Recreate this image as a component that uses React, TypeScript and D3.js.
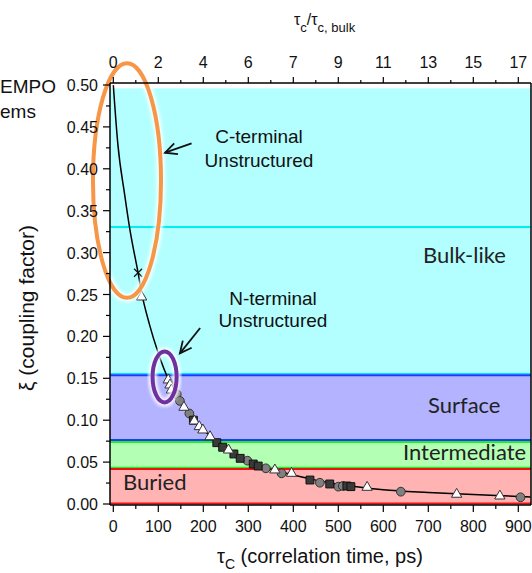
import { scaleLinear, line, curveMonotoneX, symbol, symbolTriangle, symbolCircle, symbolSquare, format } from 'd3'

const width = 532
const height = 573

// axes
const tauTicks = [0, 100, 200, 300, 400, 500, 600, 700, 800, 900]
const tauMinor = [50, 150, 250, 350, 450, 550, 650, 750, 850]
const topLabels = ['0', '2', '4', '6', '7', '9', '11', '13', '15', '17']
const xiTicks = [0, 0.05, 0.1, 0.15, 0.2, 0.25, 0.3, 0.35, 0.4, 0.45, 0.5]
const xiMinor = [0.025, 0.075, 0.125, 0.175, 0.225, 0.275, 0.325, 0.375, 0.425, 0.475]

// fitted curve
const curveTau = [0, 10, 25, 37, 55, 63, 80, 100, 124, 150, 175, 200, 250, 300, 350, 400, 450, 500, 600, 700, 800, 900, 927]
const curveXi = [0.5, 0.43, 0.37, 0.327, 0.276, 0.252, 0.215, 0.18, 0.147, 0.123, 0.103, 0.0885, 0.0655, 0.0505, 0.0415, 0.0345, 0.0285, 0.0235, 0.017, 0.0137, 0.0112, 0.009, 0.0084]

// measured points
const triTau = [63, 122, 126, 129, 157, 180, 191, 199, 215, 256, 359, 396, 564, 763, 859]
const triXi = [0.247, 0.148, 0.142, 0.136, 0.1154, 0.099, 0.0923, 0.0883, 0.0803, 0.0644, 0.0406, 0.0366, 0.0199, 0.0116, 0.0095]
const circTau = [141, 148, 169, 298, 339, 374, 459, 500, 510, 639, 905]
const circXi = [0.131, 0.123, 0.108, 0.0517, 0.0426, 0.0366, 0.0254, 0.0207, 0.0215, 0.0147, 0.008]
const sqTau = [178, 230, 243, 268, 282, 311, 322, 437, 481, 519, 528]
const sqXi = [0.1, 0.0732, 0.0677, 0.0597, 0.0545, 0.0477, 0.0453, 0.0286, 0.0239, 0.0215, 0.0207]
const crossTau = [55]
const crossXi = [0.276]

// regions
const bandNames = ['Bulk-like', 'Surface', 'Intermediate', 'Buried']
const bandTop = [0.496, 0.1535, 0.0764, 0.0418]
const bandBottom = [0.1535, 0.0764, 0.0418, 0]
const bandFill = ['#b3ffff', '#b3b3ff', '#b3ffb3', '#ffb3b3']

const x = scaleLinear().domain([0, 900]).range([113.3, 518.3])
const y = scaleLinear().domain([0, 0.5]).range([504, 85])

const left = 110
const right = 531
const top = 83
const bottom = 505

const axisFont = '"Liberation Sans", Arial, sans-serif'
const labelFont = 'Lato, "Open Sans", sans-serif'

const fitLine = line<number>()
  .x((d, i) => x(curveTau[i]))
  .y((d) => y(d))
  .curve(curveMonotoneX)

const tri = symbol().type(symbolTriangle).size(46)()
const circ = symbol().type(symbolCircle).size(60)()
const sq = symbol().type(symbolSquare).size(62)()

function Arrow({ x1, y1, x2, y2 }: { x1: number; y1: number; x2: number; y2: number }) {
  const a = Math.atan2(y2 - y1, x2 - x1)
  const len = 13
  const spread = 0.45
  const p1 = [x2 - len * Math.cos(a - spread), y2 - len * Math.sin(a - spread)]
  const p2 = [x2 - len * Math.cos(a + spread), y2 - len * Math.sin(a + spread)]
  return (
    <g stroke="#111" strokeWidth={1.8} fill="none">
      <line x1={x1} y1={y1} x2={x2} y2={y2} />
      <polyline points={`${p1[0]},${p1[1]} ${x2},${y2} ${p2[0]},${p2[1]}`} />
    </g>
  )
}

function Halo({ cx, cy, rx, ry, color }: { cx: number; cy: number; rx: number; ry: number; color: string }) {
  return (
    <g fill="none">
      <ellipse cx={x(cx)} cy={y(cy)} rx={x(rx) - x(0)} ry={y(0) - y(ry)} stroke="#fff" strokeWidth={9} opacity={0.8} filter="url(#blur)" />
      <ellipse cx={x(cx)} cy={y(cy)} rx={x(rx) - x(0)} ry={y(0) - y(ry)} stroke={color} strokeWidth={4} />
    </g>
  )
}

export default function App() {
  const fmt = format('.2f')
  return (
    <svg width={width} height={height} style={{ position: 'absolute', left: 0, top: 0, background: '#fff' }}>
      <defs>
        <filter id="blur" x="-20%" y="-20%" width="140%" height="140%">
          <feGaussianBlur stdDeviation={1.5} />
        </filter>
      </defs>

      {/* text left of the frame, as far as the crop shows it */}
      <g fontFamily={axisFont} fontSize={19} fill="#111">
        <text x={0} y={93}>EMPO</text>
        <text x={0} y={118}>ems</text>
      </g>

      {/* regions */}
      {bandNames.map((n, i) => (
        <rect key={n} x={left} width={right - left} y={y(bandTop[i])} height={y(bandBottom[i]) - y(bandTop[i])} fill={bandFill[i]} />
      ))}
      <line x1={left} x2={right} y1={y(0.3305)} y2={y(0.3305)} stroke="#00f0f0" strokeWidth={2} />
      <line x1={left} x2={right} y1={y(0.1535) - 1.5} y2={y(0.1535) - 1.5} stroke="#00e5ff" strokeWidth={1.5} />
      <line x1={left} x2={right} y1={y(0.1535)} y2={y(0.1535)} stroke="#1a3cff" strokeWidth={2} />
      <line x1={left} x2={right} y1={y(0.0764)} y2={y(0.0764)} stroke="#1a3cff" strokeWidth={2} />
      <line x1={left} x2={right} y1={y(0.0764) + 2} y2={y(0.0764) + 2} stroke="#22ee22" strokeWidth={2} />
      <line x1={left} x2={right} y1={y(0.0418) - 1.5} y2={y(0.0418) - 1.5} stroke="#22ee22" strokeWidth={1.5} />
      <line x1={left} x2={right} y1={y(0.0418)} y2={y(0.0418)} stroke="#ee1111" strokeWidth={2} />
      <line x1={left} x2={right} y1={y(0) - 0.5} y2={y(0) - 0.5} stroke="#ee1111" strokeWidth={2} />

      {/* region labels */}
      <g fontFamily={labelFont} fontSize={22} fill="#222">
        <text x={423} y={263}>{bandNames[0]}</text>
        <text x={428} y={413}>{bandNames[1]}</text>
        <text x={403} y={460}>{bandNames[2]}</text>
        <text x={123} y={490}>{bandNames[3]}</text>
      </g>

      {/* fit */}
      <path d={fitLine(curveXi) ?? ''} fill="none" stroke="#000" strokeWidth={1.5} />

      {/* points */}
      {circTau.map((t, i) => (
        <path key={`c${i}`} d={circ ?? ''} transform={`translate(${x(t)},${y(circXi[i])})`} fill="#808080" stroke="#333" strokeWidth={1} />
      ))}
      {sqTau.map((t, i) => (
        <path key={`s${i}`} d={sq ?? ''} transform={`translate(${x(t)},${y(sqXi[i])})`} fill="#3a3a3a" stroke="#111" strokeWidth={1} />
      ))}
      {triTau.map((t, i) => (
        <path key={`t${i}`} d={tri ?? ''} transform={`translate(${x(t)},${y(triXi[i])})`} fill="#fff" stroke="#333" strokeWidth={1} />
      ))}
      {crossTau.map((t, i) => (
        <g key={`x${i}`} transform={`translate(${x(t)},${y(crossXi[i])})`} stroke="#111" strokeWidth={1.2}>
          <line x1={-4} y1={-4} x2={4} y2={4} />
          <line x1={-4} y1={4} x2={4} y2={-4} />
        </g>
      ))}

      {/* annotations */}
      <Halo cx={30.4} cy={0.386} rx={75.6} ry={0.14} color="#f79646" />
      <Halo cx={114} cy={0.1516} rx={26.7} ry={0.0304} color="#7030a0" />
      <Arrow x1={x(174)} y1={y(0.4304)} x2={x(115)} y2={y(0.4192)} />
      <Arrow x1={x(193)} y1={y(0.21)} x2={x(148)} y2={y(0.1798)} />
      <g fontFamily={axisFont} fontSize={19} fill="#111" textAnchor="middle">
        <text x={259} y={143}>C-terminal</text>
        <text x={259} y={167}>Unstructured</text>
        <text x={273} y={305}>N-terminal</text>
        <text x={273} y={327}>Unstructured</text>
      </g>

      {/* frame */}
      <g stroke="#000" strokeWidth={1.5} fill="none">
        <line x1={left} x2={left} y1={top} y2={bottom} />
        <line x1={left} x2={right} y1={bottom} y2={bottom} />
        <line x1={left} x2={right} y1={top} y2={top} />
        <line x1={right} x2={right} y1={top} y2={bottom} />
      </g>

      {/* left axis */}
      <g stroke="#000" strokeWidth={1.2}>
        {xiTicks.map((v) => (
          <line key={v} x1={left - 7} x2={left} y1={y(v)} y2={y(v)} />
        ))}
        {xiMinor.map((v) => (
          <line key={v} x1={left - 4} x2={left} y1={y(v)} y2={y(v)} />
        ))}
      </g>
      <g fontFamily={axisFont} fontSize={16} fill="#111" textAnchor="end">
        {xiTicks.map((v) => (
          <text key={v} x={98} y={y(v) + 6}>{fmt(v)}</text>
        ))}
      </g>

      {/* bottom axis */}
      <g stroke="#000" strokeWidth={1.2}>
        {tauTicks.map((v) => (
          <line key={v} x1={x(v)} x2={x(v)} y1={bottom} y2={bottom + 7} />
        ))}
        {tauMinor.map((v) => (
          <line key={v} x1={x(v)} x2={x(v)} y1={bottom} y2={bottom + 4} />
        ))}
      </g>
      <g fontFamily={axisFont} fontSize={16} fill="#111" textAnchor="middle">
        {tauTicks.map((v) => (
          <text key={v} x={x(v)} y={532}>{v}</text>
        ))}
      </g>

      {/* top axis */}
      <g stroke="#000" strokeWidth={1.2}>
        {tauTicks.map((v) => (
          <line key={v} x1={x(v)} x2={x(v)} y1={top} y2={top - 6} />
        ))}
        {tauMinor.map((v) => (
          <line key={v} x1={x(v)} x2={x(v)} y1={top} y2={top - 3} />
        ))}
      </g>
      <g fontFamily={axisFont} fontSize={16} fill="#111" textAnchor="middle">
        {tauTicks.map((v, i) => (
          <text key={v} x={x(v)} y={68}>{topLabels[i]}</text>
        ))}
      </g>

      {/* axis titles */}
      <text x={294} y={25} fontFamily={axisFont} fontSize={16} fill="#111">
        τ<tspan fontSize={13} dy={7}>c</tspan>
        <tspan dy={-7}>/τ</tspan>
        <tspan fontSize={13} dy={7}>c, bulk</tspan>
      </text>
      <text x={217} y={563} fontFamily={axisFont} fontSize={20} fill="#111">
        τ<tspan fontSize={14} dy={6}>C</tspan>
        <tspan dy={-6}> (correlation time, ps)</tspan>
      </text>
      <text transform="translate(34,308) rotate(-90)" textAnchor="middle" fontFamily={axisFont} fontSize={21} fill="#111">
        ξ (coupling factor)
      </text>
    </svg>
  )
}
